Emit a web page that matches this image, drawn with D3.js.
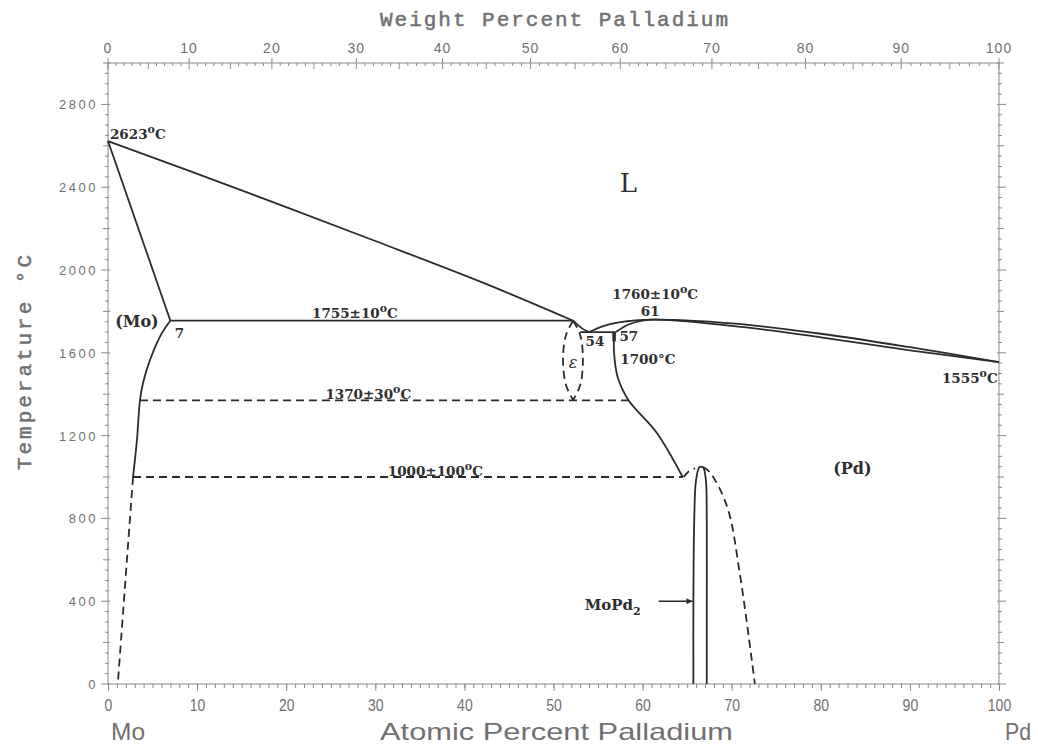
<!DOCTYPE html>
<html>
<head>
<meta charset="utf-8">
<script src="https://cdn.jsdelivr.net/npm/d3@7"></script>
<style>
  body { margin: 0; background: #fff; }
  svg { display: block; }
</style>
</head>
<body>
<svg id="chart" width="1038" height="746"></svg>
<script>
// Mo-Pd phase diagram (atomic % Pd on x, temperature on y)

const atomicTicks = [0, 10, 20, 30, 40, 50, 60, 70, 80, 90, 100]
const weightTicks = [0, 10, 20, 30, 40, 50, 60, 70, 80, 90, 100]
const tempTicks = [0, 400, 800, 1200, 1600, 2000, 2400, 2800]

// solid boundaries, [at% Pd, degC]
const liquidusMo = [[0, 2623], [15, 2385], [30, 2140], [42, 1940], [52.2, 1755]]
const solidusMo = [[0, 2623], [7, 1755]]
const solvusMo = [[7, 1755], [6.06, 1696], [4.71, 1565], [3.93, 1454], [3.59, 1372], [3.25, 1179], [2.81, 1000]]
const peritectic = [[7, 1755], [52.2, 1755]]
const liquidusDip = [[52.2, 1755], [53.2, 1718], [54, 1700]]
const liquidusPd = [[54, 1700], [55.5, 1728], [57.5, 1748], [61, 1760], [70, 1742], [80, 1692], [90, 1627], [100, 1555]]
const solidusPd = [[57, 1700], [58.5, 1738], [61, 1760], [70, 1730], [80, 1675], [90, 1612], [100, 1555]]
const eutectic = [[53, 1700], [57, 1700]]
const solvusPd = [[56.8, 1700], [56.8, 1599], [57.2, 1483], [58.4, 1372], [61.6, 1213], [64.5, 1000]]
const moPd2 = [[65.7, 0], [65.7, 400], [65.8, 800], [66.0, 985], [66.4, 1048], [66.8, 1045], [67.1, 985], [67.2, 800], [67.2, 400], [67.2, 0]]

// dashed boundaries
const solvusMoLow = [[2.81, 1000], [1.1, 0]]
const epsilonLeft = [[52.2, 1755], [51.4, 1686], [51.07, 1565], [51.4, 1444], [52.2, 1372]]
const epsilonRight = [[52.2, 1755], [53.0, 1686], [53.3, 1565], [53.0, 1444], [52.2, 1372]]
const line1370 = [[3.59, 1370], [58.4, 1370]]
const line1000 = [[2.81, 1000], [64.5, 1000]]
const moPd2Cap = [[64.6, 1000], [65.2, 1028], [65.9, 1042]]
const solvusPdLow = [[66.8, 1048], [67.6, 1020], [69.5, 855], [70.9, 536], [72.6, 0]]

const labels = [
  { t: '2623', deg: 'sup', a: 0.22, T: 2633 },
  { t: 'L', a: 58.4, T: 2377, anchor: 'middle', size: 26 },
  { t: '(Mo)', a: 0.8, T: 1725, size: 16 },
  { t: '7', a: 7.5, T: 1671 },
  { t: '1755±10', deg: 'sup', a: 22.9, T: 1768 },
  { t: '1760±10', deg: 'sup', a: 56.6, T: 1860 },
  { t: '61', a: 59.8, T: 1778 },
  { t: '54', a: 53.6, T: 1633 },
  { t: '57', a: 57.4, T: 1657 },
  { t: '1700°C', a: 57.5, T: 1546 },
  { t: 'ε', a: 52.2, T: 1527, anchor: 'middle', italic: true, size: 16 },
  { t: '1370±30', deg: 'sup', a: 24.4, T: 1377 },
  { t: '1000±100', deg: 'sup', a: 31.4, T: 1005 },
  { t: '1555', deg: 'sup', a: 93.6, T: 1454 },
  { t: '(Pd)', a: 81.4, T: 1014, size: 16 }
]

const svg = d3.select('#chart')

const x = d3.scaleLinear().domain([0, 100]).range([108, 999])
const y = d3.scaleLinear().domain([0, 3000]).range([684, 63])

// weight % Pd -> atomic % Pd
function wtToAt (w) {
  const pd = w / 106.42
  const mo = (100 - w) / 95.95
  return 100 * pd / (pd + mo)
}

const frameColor = '#8a8a8a'
const textGray = '#707070'
const ink = '#2b2b2b'

// frame
svg.append('rect')
  .attr('x', x(0)).attr('y', y(3000))
  .attr('width', x(100) - x(0)).attr('height', y(0) - y(3000))
  .attr('fill', 'none').attr('stroke', frameColor).attr('stroke-width', 1)

// bottom axis
const bottomAxis = svg.append('g').attr('transform', 'translate(0,' + y(0) + ')')
bottomAxis.call(d3.axisBottom(x).tickValues(d3.range(0, 101, 1)).tickSize(4).tickFormat(''))
bottomAxis.append('g').call(d3.axisBottom(x).tickValues(atomicTicks).tickSize(7).tickFormat(d3.format('d')))
bottomAxis.selectAll('path.domain').remove()
bottomAxis.selectAll('line').attr('stroke', frameColor)
bottomAxis.selectAll('text')
  .attr('fill', textGray)
  .attr('dy', '1.0em')
  .attr('textLength', d => String(d).length * 7.8)
  .attr('lengthAdjust', 'spacingAndGlyphs')
  .style('font-family', '"Liberation Sans", Arial, sans-serif')
  .style('font-size', '17px')

// top axis, weight percent
const topAxis = svg.append('g').attr('transform', 'translate(0,' + y(3000) + ')')
topAxis.selectAll('line.minor')
  .data(d3.range(0, 101, 1))
  .enter().append('line')
  .attr('x1', d => x(wtToAt(d))).attr('x2', d => x(wtToAt(d)))
  .attr('y1', 0).attr('y2', d => d % 5 === 0 ? 6 : 3)
  .attr('stroke', frameColor)
topAxis.selectAll('line.major')
  .data(weightTicks)
  .enter().append('line')
  .attr('x1', d => x(wtToAt(d))).attr('x2', d => x(wtToAt(d)))
  .attr('y1', -5).attr('y2', 0)
  .attr('stroke', frameColor)
topAxis.selectAll('text')
  .data(weightTicks)
  .enter().append('text')
  .attr('x', d => x(wtToAt(d)))
  .attr('y', -10)
  .attr('text-anchor', 'middle')
  .attr('fill', textGray)
  .style('font-family', '"Liberation Sans", Arial, sans-serif')
  .style('font-size', '14px')
  .style('letter-spacing', '1px')
  .text(d => d)

// left and right temperature ticks
for (const side of ['left', 'right']) {
  const x0 = side === 'left' ? x(0) : x(100)
  const dir = side === 'left' ? -1 : 1
  svg.append('g').selectAll('line')
    .data(d3.range(0, 3001, 50))
    .enter().append('line')
    .attr('x1', d => x0 - dir * (d % 200 === 0 ? 2 : 1))
    .attr('x2', d => x0 + dir * (d % 400 === 0 ? 7 : d % 200 === 0 ? 5 : 3))
    .attr('y1', d => y(d)).attr('y2', d => y(d))
    .attr('stroke', frameColor)
}
svg.append('g').selectAll('text')
  .data(tempTicks)
  .enter().append('text')
  .attr('x', x(0) - 10)
  .attr('y', d => y(d) + 5)
  .attr('text-anchor', 'end')
  .attr('fill', textGray)
  .style('font-family', '"Liberation Sans", Arial, sans-serif')
  .style('font-size', '13px')
  .style('letter-spacing', '2.5px')
  .text(d => d)

// axis titles
const monoTitle = g => g
  .attr('fill', textGray)
  .attr('stroke', textGray)
  .attr('stroke-width', 0.5)
  .style('font-family', '"Liberation Mono", "DejaVu Sans Mono", monospace')
  .style('font-size', '21px')

svg.append('text')
  .attr('x', 380).attr('y', 26)
  .attr('textLength', 348).attr('lengthAdjust', 'spacing')
  .call(monoTitle)
  .text('Weight Percent Palladium')

svg.append('text')
  .attr('transform', 'translate(31,470) rotate(-90)')
  .attr('textLength', 215).attr('lengthAdjust', 'spacing')
  .call(monoTitle)
  .text('Temperature °C')

const narrow = g => g
  .attr('fill', textGray)
  .attr('lengthAdjust', 'spacingAndGlyphs')
  .style('font-family', '"Liberation Sans", Arial, sans-serif')
  .style('font-size', '24px')

svg.append('text').attr('x', 380).attr('y', 740)
  .attr('textLength', 353)
  .call(narrow).text('Atomic Percent Palladium')
svg.append('text').attr('x', 111).attr('y', 740).attr('textLength', 34).call(narrow).text('Mo')
svg.append('text').attr('x', 1005).attr('y', 740).attr('textLength', 26).call(narrow).text('Pd')

// phase boundaries
const smooth = d3.line().x(d => x(d[0])).y(d => y(d[1])).curve(d3.curveCatmullRom.alpha(0.5))
const straight = d3.line().x(d => x(d[0])).y(d => y(d[1]))

const solidLines = [
  [liquidusMo, smooth], [solidusMo, straight], [solvusMo, smooth], [peritectic, straight],
  [liquidusDip, smooth], [liquidusPd, smooth], [solidusPd, smooth], [eutectic, straight],
  [solvusPd, smooth], [moPd2, smooth]
]
const dashedLines = [
  [solvusMoLow, straight], [epsilonLeft, smooth], [epsilonRight, smooth],
  [line1370, straight], [line1000, straight], [moPd2Cap, smooth], [solvusPdLow, smooth]
]

const curves = svg.append('g').attr('fill', 'none').attr('stroke', ink)
curves.selectAll('path.solid')
  .data(solidLines)
  .enter().append('path')
  .attr('class', 'solid')
  .attr('d', d => d[1](d[0]))
  .attr('stroke-width', 1.8)
curves.selectAll('path.dashed')
  .data(dashedLines)
  .enter().append('path')
  .attr('class', 'dashed')
  .attr('d', d => d[1](d[0]))
  .attr('stroke-width', 1.8)
  .attr('stroke-dasharray', '8,5')

// short heavy tick at the 57 at% end of the 1700 line
curves.append('path')
  .attr('d', straight([[56.8, 1700], [56.8, 1655]]))
  .attr('stroke-width', 3.5)

// MoPd2 arrow
svg.append('defs').append('marker')
  .attr('id', 'arrow')
  .attr('viewBox', '0 0 10 10')
  .attr('refX', 10).attr('refY', 5)
  .attr('markerWidth', 5).attr('markerHeight', 4)
  .attr('orient', 'auto')
  .append('path').attr('d', 'M0,0L10,5L0,10z').attr('fill', ink)

svg.append('path')
  .attr('d', straight([[61.8, 400], [65.6, 400]]))
  .attr('stroke', ink).attr('stroke-width', 1.5)
  .attr('marker-end', 'url(#arrow)')

// annotations
const annot = svg.append('g')
  .attr('fill', '#2e2e2e')
  .style('font-family', '"DejaVu Serif", "Liberation Serif", serif')
  .style('font-weight', 'bold')
  .style('font-size', '13.5px')

for (const l of labels) {
  const t = annot.append('text')
    .attr('x', x(l.a)).attr('y', y(l.T))
    .attr('text-anchor', l.anchor || 'start')
  if (l.size) t.style('font-size', l.size + 'px')
  if (l.size === 26) t.style('font-weight', 'normal')
  if (l.italic) t.style('font-style', 'italic').style('font-weight', 'normal')
  t.append('tspan').text(l.t)
  if (l.deg === 'sup') {
    t.append('tspan').attr('dy', -6).style('font-size', '11px').text('o')
    t.append('tspan').attr('dy', 6).text('C')
  }
}

const moLabel = annot.append('text').attr('x', x(53.5)).attr('y', y(357)).style('font-size', '15px')
moLabel.append('tspan').text('MoPd')
moLabel.append('tspan').attr('dy', 5).style('font-size', '11px').text('2')
</script>
</body>
</html>
